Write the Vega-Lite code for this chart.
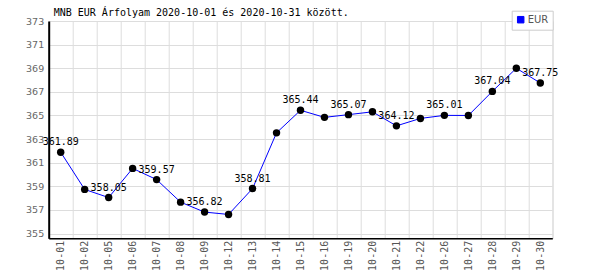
{
  "$schema": "https://vega.github.io/schema/vega-lite/v6.json",
  "autosize": "none",
  "width": 503.6,
  "height": 217.3,
  "padding": {"left": 48.7, "top": 21, "right": 47.7, "bottom": 31.7},
  "background": "white",
  "config": {"view": {"stroke": "#dddddd"}},
  "title": {
    "text": "MNB EUR Árfolyam 2020-10-01 és 2020-10-31 között.",
    "anchor": "start",
    "frame": "group",
    "font": "DejaVu Sans Mono",
    "fontSize": 10,
    "fontWeight": "normal",
    "color": "#000000",
    "dx": 5,
    "offset": 0,
    "baseline": "alphabetic",
    "dy": 16
  },
  "data": {
    "values": [
      {"date": "10-01", "rate": 361.89},
      {"date": "10-02", "rate": 358.74},
      {"date": "10-05", "rate": 358.05},
      {"date": "10-06", "rate": 360.52},
      {"date": "10-07", "rate": 359.57},
      {"date": "10-08", "rate": 357.66},
      {"date": "10-09", "rate": 356.82},
      {"date": "10-12", "rate": 356.62},
      {"date": "10-13", "rate": 358.81},
      {"date": "10-14", "rate": 363.53},
      {"date": "10-15", "rate": 365.44},
      {"date": "10-16", "rate": 364.84},
      {"date": "10-19", "rate": 365.07},
      {"date": "10-20", "rate": 365.31},
      {"date": "10-21", "rate": 364.12},
      {"date": "10-22", "rate": 364.75},
      {"date": "10-26", "rate": 365.01},
      {"date": "10-27", "rate": 365.0},
      {"date": "10-28", "rate": 367.04},
      {"date": "10-29", "rate": 369.0},
      {"date": "10-30", "rate": 367.75}
    ]
  },
  "encoding": {
    "x": {
      "field": "date",
      "type": "nominal",
      "sort": null,
      "scale": {"type": "band", "paddingInner": 0, "paddingOuter": 0},
      "axis": {
        "title": null,
        "labelAngle": -90,
        "labelFont": "DejaVu Sans Mono",
        "labelFontSize": 10,
        "labelColor": "#555555",
        "labelPadding": 2,
        "ticks": false,
        "tickBand": "extent",
        "grid": true,
        "gridColor": "#dddddd",
        "gridWidth": 1,
        "domainColor": "#000000",
        "domainWidth": 1.5
      }
    },
    "y": {
      "field": "rate",
      "type": "quantitative",
      "scale": {"domain": [354.6, 373], "nice": false, "zero": false},
      "axis": {
        "title": null,
        "values": [355, 357, 359, 361, 363, 365, 367, 369, 371, 373],
        "labelFont": "DejaVu Sans",
        "labelFontSize": 9.5,
        "labelColor": "#666666",
        "labelPadding": 5,
        "ticks": false,
        "grid": true,
        "gridColor": "#dddddd",
        "gridWidth": 1,
        "domainColor": "#000000",
        "domainWidth": 2
      }
    }
  },
  "layer": [
    {
      "mark": {"type": "line", "strokeWidth": 1},
      "encoding": {
        "color": {
          "datum": "EUR",
          "scale": {"range": ["#0000ff"]},
          "legend": {
            "title": null,
            "orient": "none",
            "legendX": 463,
            "legendY": -10.3,
            "direction": "vertical",
            "fillColor": "#ffffff",
            "strokeColor": "#cccccc",
            "padding": 4,
            "symbolType": "square",
            "symbolSize": 42,
            "labelFont": "DejaVu Sans",
            "labelFontSize": 10,
            "labelColor": "#555555",
            "labelOffset": 2,
            "encode": {
              "symbols": {
                "update": {
                  "fill": {"value": "#0000ff"},
                  "stroke": {"value": "#000066"},
                  "strokeWidth": {"value": 1}
                }
              }
            }
          }
        }
      }
    },
    {
      "mark": {"type": "point", "filled": true, "color": "#000000", "size": 55, "opacity": 1}
    },
    {
      "transform": [
        {"filter": {"field": "date", "oneOf": ["10-01", "10-05", "10-07", "10-09", "10-13", "10-15", "10-19", "10-21", "10-26", "10-28", "10-30"]}}
      ],
      "mark": {"type": "text", "font": "DejaVu Sans Mono", "fontSize": 10, "color": "#000000", "dy": -10, "baseline": "middle"},
      "encoding": {
        "text": {"field": "rate", "type": "quantitative", "format": ".2f"}
      }
    }
  ]
}
